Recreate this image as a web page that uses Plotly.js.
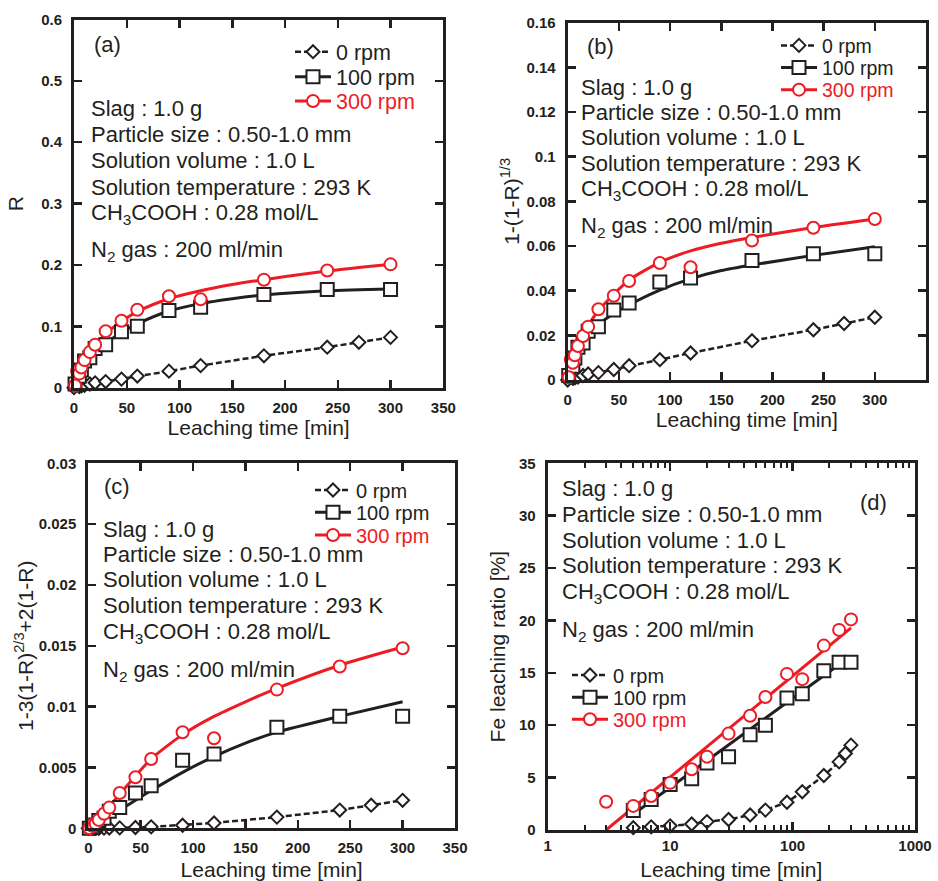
<!DOCTYPE html>
<html>
<head>
<meta charset="utf-8">
<script src="https://cdn.plot.ly/plotly-3.0.1.min.js"></script>
<style>html,body{margin:0;padding:0;background:#fff;}#chart{width:938px;height:881px;}</style>
</head>
<body>
<div id="chart"></div>
<script>
// ---------------- data ----------------
const seriesNames = ['0 rpm', '100 rpm', '300 rpm'];
const infoLines = ['Slag : 1.0 g', 'Particle size : 0.50-1.0 mm', 'Solution volume : 1.0 L',
  'Solution temperature : 293 K', 'CH<sub>3</sub>COOH : 0.28 mol/L', 'N<sub>2</sub> gas : 200 ml/min'];
const panelLabels = ['(a)', '(b)', '(c)', '(d)'];
const xTitle = 'Leaching time [min]';
const yTitles = ['R', '1-(1-R)<sup>1/3</sup>', '1-3(1-R)<sup>2/3</sup>+2(1-R)', 'Fe leaching ratio [%]'];

// leaching times [min]
const t0 = [0, 5, 7, 10, 15, 20, 30, 45, 60, 90, 120, 180, 240, 270, 300];
const t100 = [1, 5, 7, 10, 15, 20, 30, 45, 60, 90, 120, 180, 240, 300];
const t300 = [1, 3, 5, 7, 10, 15, 20, 30, 45, 60, 90, 120, 180, 240, 300];

// (a) R
const a0 = [0, 0.002, 0.003, 0.004, 0.006, 0.008, 0.010, 0.014, 0.019, 0.027, 0.036, 0.052, 0.066, 0.074, 0.082];
const a100 = [0.006, 0.0185, 0.029, 0.0435, 0.049, 0.064, 0.070, 0.091, 0.100, 0.126, 0.131, 0.152, 0.160, 0.160];
const a300 = [0.0036, 0.027, 0.023, 0.033, 0.045, 0.058, 0.070, 0.092, 0.109, 0.127, 0.149, 0.144, 0.176, 0.191, 0.201];
const fitTa = [1, 3, 5, 10, 15, 20, 30, 45, 60, 90, 120, 150, 180, 240, 300];
const fitA100 = [0.010, 0.020, 0.026, 0.040, 0.049, 0.057, 0.072, 0.090, 0.104, 0.125, 0.137, 0.145, 0.151, 0.158, 0.161];
const fitA300 = [0.013, 0.026, 0.033, 0.047, 0.058, 0.068, 0.088, 0.108, 0.124, 0.145, 0.158, 0.168, 0.176, 0.190, 0.201];

// (b) 1-(1-R)^(1/3)
const b0 = [0, 0.0007, 0.0010, 0.0013, 0.0020, 0.0027, 0.0033, 0.0047, 0.0064, 0.0091, 0.0121, 0.0176, 0.0225, 0.0253, 0.0281];
const b100 = [0.0020, 0.0062, 0.0098, 0.0147, 0.0166, 0.0218, 0.0239, 0.0313, 0.0345, 0.0439, 0.0457, 0.0535, 0.0565, 0.0565];
const b300 = [0.0012, 0.0091, 0.0077, 0.0111, 0.0152, 0.0197, 0.0239, 0.0317, 0.0377, 0.0443, 0.0524, 0.0505, 0.0625, 0.0682, 0.0721];
const fitTb = [0, 1, 3, 5, 10, 15, 20, 30, 45, 60, 90, 120, 150, 180, 240, 300];
const fitB100 = [0, 0.003, 0.006, 0.0085, 0.0125, 0.0165, 0.020, 0.0248, 0.0298, 0.0337, 0.0403, 0.0453, 0.049, 0.0515, 0.0558, 0.0597];
const fitB300 = [0, 0.004, 0.008, 0.0115, 0.0162, 0.020, 0.0244, 0.031, 0.0384, 0.0448, 0.0527, 0.0578, 0.0612, 0.0638, 0.0683, 0.0721];

// (c) 1-3(1-R)^(2/3)+2(1-R)
const c0 = [0, 0.000001, 0.000003, 0.000005, 0.000012, 0.000021, 0.000034, 0.000066, 0.00012, 0.00025, 0.00044, 0.00092, 0.0015, 0.0019, 0.0023];
const c100 = [0.00001, 0.00012, 0.00028, 0.00064, 0.00082, 0.0014, 0.0017, 0.0029, 0.0035, 0.0056, 0.0061, 0.0083, 0.0092, 0.0092];
const c300 = [0.000004, 0.00025, 0.00018, 0.00037, 0.00069, 0.0012, 0.0017, 0.0029, 0.0042, 0.0057, 0.0079, 0.0074, 0.0114, 0.0133, 0.0148];
const fitTc = [0, 5, 10, 20, 30, 45, 60, 90, 120, 150, 180, 240, 300];
const fitC100 = [0, 0.0001, 0.0003, 0.0009, 0.0015, 0.0023, 0.0031, 0.0046, 0.0059, 0.0070, 0.0079, 0.0092, 0.0104];
const fitC300 = [0, 0.0003, 0.0008, 0.0018, 0.0028, 0.0043, 0.0057, 0.0077, 0.0092, 0.0104, 0.0115, 0.0134, 0.0149];

// (d) Fe leaching ratio [%] vs log time
const d_t0 = [5, 7, 10, 15, 20, 30, 45, 60, 90, 120, 180, 240, 270, 300];
const d0 = [0.22, 0.3, 0.4, 0.57, 0.8, 1.0, 1.43, 1.9, 2.65, 3.65, 5.2, 6.5, 7.3, 8.1];
const d_t100 = [5, 7, 10, 15, 20, 30, 45, 60, 90, 120, 180, 240, 300];
const d100 = [1.85, 2.9, 4.35, 4.9, 6.4, 7.0, 9.1, 10.0, 12.6, 13.0, 15.2, 16.0, 16.0];
const d_t300 = [3, 5, 7, 10, 15, 20, 30, 45, 60, 90, 120, 180, 240, 300];
const d300 = [2.7, 2.3, 3.25, 4.5, 5.8, 7.0, 9.2, 10.9, 12.7, 14.9, 14.4, 17.6, 19.1, 20.1];
const fitTd100 = [5, 240];
const fitD100 = [1.5, 15.8];
const fitTd300 = [3, 300];
const fitD300 = [0, 19.3];

// ---------------- styling ----------------
const W = 938, H = 881;
const RED = '#ed1c24', BLK = '#231f20', TXT = '#231f20';
const FONT = 'Liberation Sans, Arial, Helvetica, sans-serif';
const px = v => v / W;
const py = v => 1 - v / H;

// one single-item legend per row, so rows can be spaced like the original
const legendSpec = [
  {x: 290, rows: [51.7, 76.7, 101], size: 21.5},
  {x: 776, rows: [45.7, 67.7, 90], size: 19.5},
  {x: 310, rows: [490, 512.3, 535], size: 20},
  {x: 567, rows: [675, 697.3, 719.3], size: 20},
];
const legId = (p, i) => { const n = p * 3 + i + 1; return n === 1 ? 'legend' : 'legend' + n; };

const traces = [];
function fitLine(x, y, xa, ya, color) {
  traces.push({type: 'scatter', mode: 'lines', x, y, xaxis: xa, yaxis: ya, showlegend: false, hoverinfo: 'skip',
    cliponaxis: false, line: {color, width: 3, shape: 'spline', smoothing: 0.7}});
}
function points(x, y, xa, ya, sym, size, color) {
  traces.push({type: 'scatter', mode: 'markers', x, y, xaxis: xa, yaxis: ya, showlegend: false, cliponaxis: false,
    marker: {symbol: sym, size, color: 'white', line: {color, width: 2}}});
}
function dashed(x, y, xa, ya, p) {
  traces.push({type: 'scatter', mode: 'lines+markers', name: seriesNames[0], x, y, xaxis: xa, yaxis: ya,
    legend: legId(p, 0), showlegend: true, cliponaxis: false,
    line: {color: BLK, width: 2.5, dash: '6px,3px'},
    marker: {symbol: 'diamond', size: 10, color: 'white', line: {color: BLK, width: 2}}});
}
function legendOnly(i, xa, ya, p) {
  const color = i === 2 ? RED : BLK;
  const sym = i === 2 ? 'circle' : 'square';
  const name = i === 2 ? '<span style="color:' + RED + '">' + seriesNames[2] + '</span>' : seriesNames[i];
  traces.push({type: 'scatter', mode: 'lines+markers', name, x: [null], y: [null], xaxis: xa, yaxis: ya,
    legend: legId(p, i), showlegend: true,
    line: {color, width: 3}, marker: {symbol: sym, size: i === 2 ? 12 : 13, color: 'white', line: {color, width: 2}}});
}

const sets = [
  {xa: 'x', ya: 'y', t0, y0: a0, t100, y100: a100, t300, y300: a300, ft100: fitTa, f100: fitA100, ft300: fitTa, f300: fitA300},
  {xa: 'x2', ya: 'y2', t0, y0: b0, t100, y100: b100, t300, y300: b300, ft100: fitTb, f100: fitB100, ft300: fitTb, f300: fitB300},
  {xa: 'x3', ya: 'y3', t0, y0: c0, t100, y100: c100, t300, y300: c300, ft100: fitTc, f100: fitC100, ft300: fitTc, f300: fitC300},
  {xa: 'x4', ya: 'y4', t0: d_t0, y0: d0, t100: d_t100, y100: d100, t300: d_t300, y300: d300,
    ft100: fitTd100, f100: fitD100, ft300: fitTd300, f300: fitD300},
];
sets.forEach((s, p) => {
  fitLine(s.ft100, s.f100, s.xa, s.ya, BLK);
  fitLine(s.ft300, s.f300, s.xa, s.ya, RED);
  dashed(s.t0, s.y0, s.xa, s.ya, p);
  legendOnly(1, s.xa, s.ya, p);
  legendOnly(2, s.xa, s.ya, p);
  points(s.t100, s.y100, s.xa, s.ya, 'square', 13, BLK);
  points(s.t300, s.y300, s.xa, s.ya, 'circle', 12, RED);
});

function axis(extra) {
  return Object.assign({
    showline: true, linewidth: 3, linecolor: BLK, mirror: 'ticks',
    ticks: 'inside', ticklen: 8, tickwidth: 2.5, tickcolor: BLK,
    showgrid: false, zeroline: false, fixedrange: true,
    tickfont: {family: FONT, size: 15, weight: 'bold', color: BLK},
  }, extra);
}
function xt(standoff) { return {text: xTitle, standoff, font: {family: FONT, size: 21, color: TXT}}; }
function yt(i, standoff) { return {text: yTitles[i], standoff, font: {family: FONT, size: 21, color: TXT}}; }

const panels = [
  {x0: 74, x1: 443.3, y0: 19.5, y1: 387.7},
  {x0: 567.7, x1: 926, y0: 22.7, y1: 380},
  {x0: 88.3, x1: 455, y0: 463.3, y1: 828.3},
  {x0: 547.7, x1: 915, y0: 463.3, y1: 830},
];
const dom = p => ({x: [px(p.x0), px(p.x1)], y: [py(p.y1), py(p.y0)]});

const layout = {
  width: W, height: H, margin: {l: 0, r: 0, t: 0, b: 0},
  paper_bgcolor: 'white', plot_bgcolor: 'white', showlegend: true,
  font: {family: FONT, color: TXT},
  xaxis: axis({domain: dom(panels[0]).x, anchor: 'y', range: [0, 350], dtick: 50, ticklabelstandoff: 4, title: xt(1)}),
  yaxis: axis({domain: dom(panels[0]).y, anchor: 'x', range: [0, 0.6], dtick: 0.1, ticklabelstandoff: 6, title: yt(0, 12)}),
  xaxis2: axis({domain: dom(panels[1]).x, anchor: 'y2', range: [0, 350], dtick: 50, ticklabelstandoff: 4, title: xt(1)}),
  yaxis2: axis({domain: dom(panels[1]).y, anchor: 'x2', range: [0, 0.16], dtick: 0.02, ticklabelstandoff: 6, title: yt(1, 2)}),
  xaxis3: axis({domain: dom(panels[2]).x, anchor: 'y3', range: [0, 350], dtick: 50, ticklabelstandoff: 4, title: xt(9)}),
  yaxis3: axis({domain: dom(panels[2]).y, anchor: 'x3', range: [0, 0.03], dtick: 0.005, ticklabelstandoff: 6, title: yt(2, 0)}),
  xaxis4: axis({domain: dom(panels[3]).x, anchor: 'y4', type: 'log', range: [0, 3], dtick: 1, ticklabelstandoff: 0,
    minor: {ticks: 'inside', ticklen: 5, tickwidth: 2, tickcolor: BLK, dtick: 'D1'}, title: xt(14)}),
  yaxis4: axis({domain: dom(panels[3]).y, anchor: 'x4', range: [0, 35], dtick: 5, ticklabelstandoff: 6, title: yt(3, 8)}),
  annotations: [],
};
legendSpec.forEach((L, p) => {
  L.rows.forEach((r, i) => {
    layout[legId(p, i)] = {x: px(L.x), y: py(r), xanchor: 'left', yanchor: 'middle', bgcolor: 'rgba(0,0,0,0)',
      borderwidth: 0, itemwidth: 36, font: {family: FONT, size: L.size, color: TXT}};
  });
});

// text blocks: left edge and baselines (px) of each info line
const infoPos = [
  {x: 90.7, base: [115, 140, 166, 193, 218, 256]},
  {x: 580.7, base: [93, 118, 143, 169, 194, 231]},
  {x: 103.3, base: [535, 560, 585.7, 611.7, 637.3, 675]},
  {x: 561.7, base: [494.3, 520, 546, 571.7, 597.3, 635]},
];
infoPos.forEach(p => {
  infoLines.forEach((txt, k) => {
    layout.annotations.push({xref: 'paper', yref: 'paper', x: px(p.x - 2), y: py(p.base[k] - 20.5),
      xanchor: 'left', yanchor: 'top', showarrow: false, text: txt, align: 'left',
      font: {family: FONT, size: 22, color: TXT}});
  });
});
const labelPos = [[107, 44], [600, 47], [117, 487], [873, 502]];
labelPos.forEach((p, i) => {
  layout.annotations.push({xref: 'paper', yref: 'paper', x: px(p[0]), y: py(p[1]), xanchor: 'center', yanchor: 'middle',
    showarrow: false, text: panelLabels[i], font: {family: FONT, size: 22, color: TXT}});
});

Plotly.newPlot('chart', traces, layout, {staticPlot: true, displayModeBar: false});
</script>
</body>
</html>
